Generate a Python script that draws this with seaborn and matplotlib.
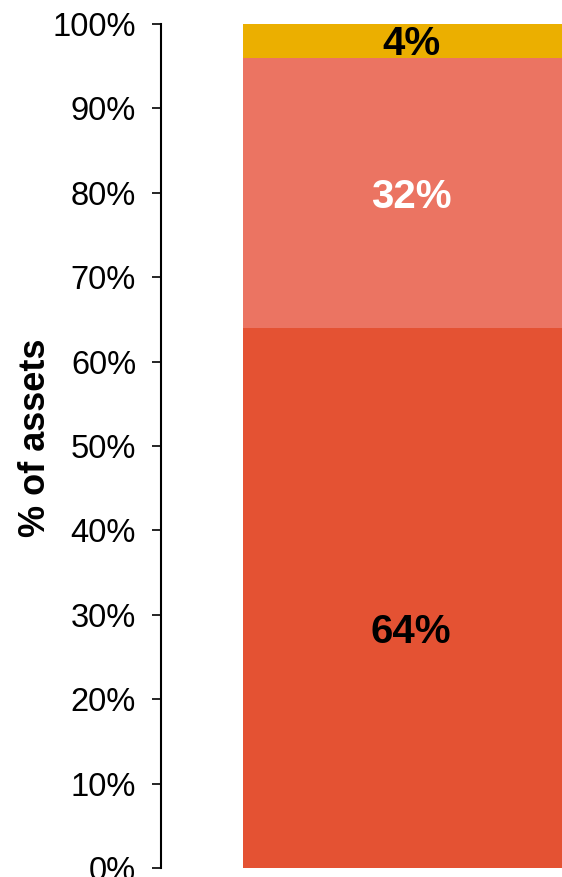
import matplotlib
matplotlib.use("Agg")
import matplotlib.pyplot as plt
import seaborn as sns
import pandas as pd
import numpy as np

# Asset mix shown as one stacked column (bottom to top)
segments = ["Segment A", "Segment B", "Segment C"]
shares = [64, 32, 4]
colors = ["#E45233", "#EB7462", "#EBAF00"]
label_colors = ["black", "white", "black"]
yticks = [0, 10, 20, 30, 40, 50, 60, 70, 80, 90, 100]

sns.set_theme(style="white")
plt.rcParams["font.family"] = ["Liberation Sans", "DejaVu Sans"]

fig = plt.figure(figsize=(5.62, 8.77), dpi=100)
ax = fig.add_axes([0.2865, 0.0103, 0.7135, 0.9623])

# Stack by overdrawing cumulative totals, tallest first
cum = np.cumsum(shares)
for i in reversed(range(len(shares))):
    df = pd.DataFrame({"col": [""], "value": [cum[i]]})
    sns.barplot(data=df, x="col", y="value", color=colors[i], saturation=1,
                width=0.8, ax=ax, linewidth=0)

# Value labels inside each segment
label_pos = [28.0, 79.5, 97.6]
for s, yp, lc in zip(shares, label_pos, label_colors):
    ax.text(0.003, yp, f"{s}%", ha="center", va="center", fontsize=29,
            fontweight="bold", color=lc)

ax.set_xlim(-0.5964, 0.3641)
ax.set_ylim(0, 100)
ax.set_yticks(yticks)
ax.set_yticklabels([f"{t}%" for t in yticks], fontsize=23.5)
ax.set_xticks([])
ax.set_xlabel("")
ax.set_ylabel("% of assets", fontsize=26, fontweight="bold", color="black")
ax.yaxis.set_label_coords(-0.27, 0.51)

for side in ["top", "right", "bottom"]:
    ax.spines[side].set_visible(False)
ax.spines["left"].set_color("black")
ax.spines["left"].set_linewidth(1.5)
ax.tick_params(axis="y", left=True, direction="out", length=6.5, width=1.2,
               color="black", pad=11.5, labelcolor="black")
ax.set_facecolor("white")
fig.patch.set_facecolor("white")

fig.savefig("out.png", dpi=100)
